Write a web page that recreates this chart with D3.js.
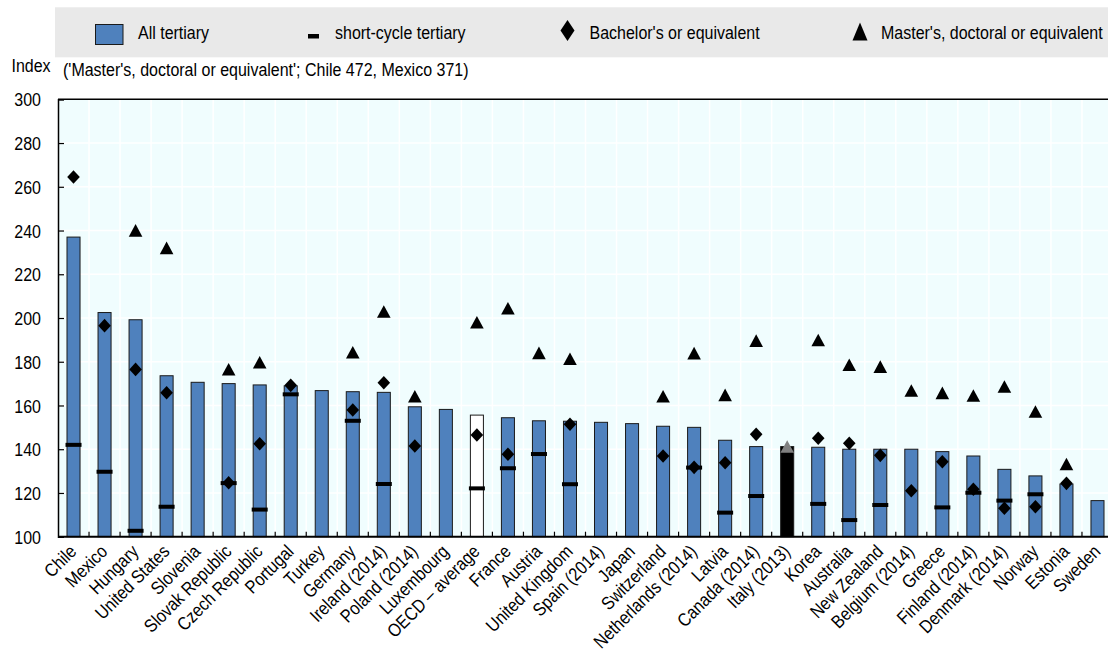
<!DOCTYPE html>
<html>
<head>
<meta charset="utf-8">
<script src="https://cdn.jsdelivr.net/npm/d3@7"></script>
<style>
  html, body { margin: 0; padding: 0; background: #fff; }
  svg { display: block; font-family: "Liberation Sans", Arial, sans-serif; }
</style>
</head>
<body>
<svg id="chart" width="1108" height="652"></svg>
<script>
const categories = ["Chile","Mexico","Hungary","United States","Slovenia","Slovak Republic","Czech Republic","Portugal","Turkey","Germany","Ireland (2014)","Poland (2014)","Luxembourg","OECD \u2013 average","France","Austria","United Kingdom","Spain (2014)","Japan","Switzerland","Netherlands (2014)","Latvia","Canada (2014)","Italy (2013)","Korea","Australia","New Zealand","Belgium (2014)","Greece","Finland (2014)","Denmark (2014)","Norway","Estonia","Sweden"];
const allTertiary = [237,202.5,199.2,173.6,170.6,170,169.4,169,166.8,166.3,166,159.4,158.2,155.6,154.4,153,152.8,152.3,151.7,150.5,150,144.1,141.2,141.2,140.9,140,140,140,138.9,136.9,130.8,127.8,124.1,116.5];
const shortCycle = [142,129.7,102.7,113.7,null,124.5,112.4,165.1,null,153,124.1,null,null,122.1,131.3,137.8,124,null,null,null,131.6,111,118.6,null,115,107.6,114.5,null,113.4,120.1,116.5,119.4,null,null];
const bachelor = [264.5,196.5,176.5,165.8,null,124.7,142.5,169.2,null,157.9,170.4,141.5,null,146.5,137.7,null,151.4,null,null,136.9,131.7,133.8,146.8,null,145,142.7,137.2,121,134.3,121.7,113,113.7,124.4,null];
const master = [472,371,240,232,null,176.5,179.7,null,null,184.3,202.9,164.2,null,198,204.4,184,181.3,null,null,164.2,183.9,164.8,189.6,141.2,189.9,178.6,177.7,166.8,165.7,164.5,168.6,157.2,133.2,null];
const yTicks = [100,120,140,160,180,200,220,240,260,280,300];
const legendLabels = ["All tertiary","short-cycle tertiary","Bachelor's or equivalent","Master's, doctoral or equivalent"];
const axisTitle = "Index";
const note = "('Master's, doctoral or equivalent'; Chile 472, Mexico 371)";

const svg = d3.select("#chart");
const FS = 18.5, SX = 0.865;
const plot = {left: 58, right: 1113, top: 99.3, bottom: 536.7};

const x = d3.scaleBand().domain(categories).range([plot.left, plot.right]).padding(0);
const y = d3.scaleLinear().domain([100, 300]).range([plot.bottom, plot.top]);
const bw = x.bandwidth() * 0.42;

function hText(sel, tx, ty, str, anchor) {
  return sel.append("text")
    .attr("transform", `translate(${tx},${ty}) scale(${SX},1)`)
    .attr("text-anchor", anchor || "start")
    .attr("font-size", FS)
    .attr("fill", "#000")
    .text(str);
}

// Legend
const lg = svg.append("g");
lg.append("rect").attr("x", 55).attr("y", 7.3).attr("width", 1108 - 55).attr("height", 50).attr("fill", "#e9e9e9");
lg.append("rect").attr("x", 95.5).attr("y", 24.5).attr("width", 27.5).attr("height", 20).attr("fill", "#4f81bd").attr("stroke", "#1a1a1a").attr("stroke-width", 1);
hText(lg, 138, 38.5, legendLabels[0]);
lg.append("rect").attr("x", 308).attr("y", 34).attr("width", 11).attr("height", 4.5).attr("fill", "#000");
hText(lg, 335, 38.5, legendLabels[1]);
lg.append("path").attr("d", "M567.5,20 L574.5,30.5 L567.5,41 L560.5,30.5 Z").attr("fill", "#000");
hText(lg, 589.5, 38.5, legendLabels[2]);
lg.append("path").attr("d", "M860,22.5 L867.5,40.5 L852.5,40.5 Z").attr("fill", "#000");
hText(lg, 881, 38.5, legendLabels[3]);

// Axis title + note
hText(svg, 11.5, 72.3, axisTitle);
hText(svg, 63, 75.5, note);

// Plot background
svg.append("rect").attr("x", plot.left).attr("y", plot.top)
  .attr("width", plot.right - plot.left).attr("height", plot.bottom - plot.top)
  .attr("fill", "#f0fdfe");

// Gridlines
svg.append("g").selectAll("line.h").data(yTicks.filter(d => d > 100 && d < 300)).join("line")
  .attr("x1", plot.left).attr("x2", plot.right)
  .attr("y1", d => y(d)).attr("y2", d => y(d))
  .attr("stroke", "#ffffff").attr("stroke-width", 1.5);
svg.append("g").selectAll("line.v").data(categories.slice(1)).join("line")
  .attr("x1", d => x(d)).attr("x2", d => x(d))
  .attr("y1", plot.top).attr("y2", plot.bottom)
  .attr("stroke", "#ffffff").attr("stroke-width", 1.5);

// Bars
const barFill = (c) => c === "OECD \u2013 average" ? "#ffffff" : (c === "Italy (2013)" ? "#000000" : "#4f81bd");
svg.append("g").selectAll("rect").data(categories).join("rect")
  .attr("x", d => x(d) + (x.bandwidth() - bw) / 2)
  .attr("y", (d, i) => y(allTertiary[i]))
  .attr("width", bw)
  .attr("height", (d, i) => y(100) - y(allTertiary[i]))
  .attr("fill", d => barFill(d))
  .attr("stroke", "#1a1a1a").attr("stroke-width", 1);

const cx = (i) => x(categories[i]) + x.bandwidth() / 2;

// Short-cycle dashes
svg.append("g").selectAll("rect").data(shortCycle.map((v, i) => ({v, i})).filter(d => d.v != null)).join("rect")
  .attr("x", d => cx(d.i) - 8).attr("y", d => y(d.v) - 2)
  .attr("width", 16).attr("height", 4).attr("fill", "#000");

// Bachelor diamonds
svg.append("g").selectAll("path").data(bachelor.map((v, i) => ({v, i})).filter(d => d.v != null && d.v <= 300)).join("path")
  .attr("transform", d => `translate(${cx(d.i)},${y(d.v)})`)
  .attr("d", "M0,-6.8 L6.3,0 L0,6.8 L-6.3,0 Z").attr("fill", "#000");

// Master triangles
svg.append("g").selectAll("path").data(master.map((v, i) => ({v, i})).filter(d => d.v != null && d.v <= 300)).join("path")
  .attr("transform", d => `translate(${cx(d.i)},${y(d.v)})`)
  .attr("d", "M0,-6.4 L6.8,6.2 L-6.8,6.2 Z")
  .attr("fill", d => categories[d.i] === "Italy (2013)" ? "#808080" : "#000");

// Frame lines
svg.append("line").attr("x1", plot.left).attr("x2", plot.right).attr("y1", plot.top).attr("y2", plot.top).attr("stroke", "#000").attr("stroke-width", 1.5);

// Y axis
const yAxis = svg.append("g").attr("transform", `translate(${plot.left},0)`)
  .call(d3.axisLeft(y).tickValues(yTicks).tickSize(-6).tickPadding(17));
yAxis.select(".domain").attr("stroke", "#000").attr("stroke-width", 1.5);
yAxis.selectAll(".tick line").attr("stroke", "#000").attr("stroke-width", 1.2);
yAxis.selectAll(".tick text")
  .attr("x", null).attr("dy", null)
  .attr("transform", `translate(-17,6.6) scale(${SX},1)`)
  .attr("font-size", FS).attr("font-family", "Liberation Sans, Arial, sans-serif").attr("fill", "#000");

// X axis: boundary ticks + baseline
svg.append("g").selectAll("line").data(categories.slice(1)).join("line")
  .attr("x1", d => x(d)).attr("x2", d => x(d))
  .attr("y1", plot.bottom).attr("y2", plot.bottom - 5)
  .attr("stroke", "#000").attr("stroke-width", 1.2);
svg.append("line").attr("x1", plot.left).attr("x2", plot.right).attr("y1", plot.bottom).attr("y2", plot.bottom).attr("stroke", "#000").attr("stroke-width", 2);

// X labels
svg.append("g").selectAll("text").data(categories).join("text")
  .attr("transform", (d, i) => `translate(${cx(i) + 4},${plot.bottom + 16}) rotate(-45) scale(${SX},1)`)
  .attr("text-anchor", "end")
  .attr("font-size", FS).attr("fill", "#000")
  .text(d => d);
</script>
</body>
</html>
